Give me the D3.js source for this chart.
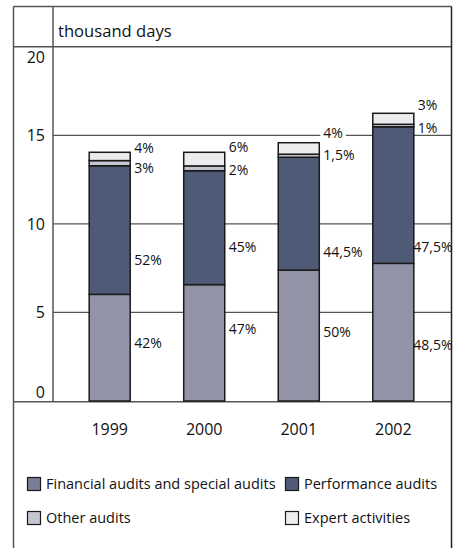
<!DOCTYPE html>
<html><head><meta charset="utf-8">
<script src="https://cdn.jsdelivr.net/npm/d3@7"></script>
<style>
html,body{margin:0;padding:0;background:#fff;}
svg{display:block;font-family:"Open Sans",sans-serif;}
</style></head>
<body>
<svg id="chart" width="454" height="548"></svg>
<script>
// ---- data (thousand days) ----
const years = ["1999", "2000", "2001", "2002"];
const seriesNames = ["Financial audits and special audits", "Performance audits", "Other audits", "Expert activities"];
const financial   = [6.02, 6.57, 7.39, 7.77];
const performance = [7.26, 6.43, 6.37, 7.71];
const other       = [0.29, 0.27, 0.17, 0.14];
const expert      = [0.47, 0.77, 0.65, 0.62];
// percentage labels per series
const financialPct   = ["42%", "47%", "50%", "48,5%"];
const performancePct = ["52%", "45%", "44,5%", "47,5%"];
const otherPct       = ["3%", "2%", "1,5%", "1%"];
const expertPct      = ["4%", "6%", "4%", "3%"];
// label anchor values (thousand days) where each percentage label sits
const financialLabelAt   = [2.99, 3.78, 3.63, 2.88];
const performanceLabelAt = [7.68, 8.43, 8.15, 8.43];
const otherLabelAt       = [12.87, 12.76, 13.60, 15.13];
const expertLabelAt      = [14.00, 14.03, 14.85, 16.43];
const yTicks = [0, 5, 10, 15, 20];
const unitLabel = "thousand days";

const barColors    = ["#9293a7", "#4f5a77", "#c6c6d3", "#ececef"];
const legendColors = ["#7b7e97", "#4f5a77", "#c6c6d3", "#ececef"];

// ---- layout ----
const svg = d3.select("#chart");
const frame = {l: 13.5, r: 451.5, t: 6.5, b: 548};
const plot = {l: 53, r: 451.5, t: 46.7, b: 401};

const x = d3.scaleBand().domain(years).range([62.43, 440.57]).paddingInner(0.566).paddingOuter(0.283);
const y = d3.scaleLinear().domain([0, 20]).range([plot.b, plot.t]);

const table = years.map((yr, i) => ({
  year: yr, financial: financial[i], performance: performance[i], other: other[i], expert: expert[i]
}));
const keys = ["financial", "performance", "other", "expert"];
const stacked = d3.stack().keys(keys)(table);

const lineCol = "#555";

// gridlines (5,10,15)
svg.append("g").selectAll("line").data(yTicks.filter(t => t > 0 && t < 20)).join("line")
  .attr("x1", plot.l).attr("x2", frame.r)
  .attr("y1", d => y(d)).attr("y2", d => y(d))
  .attr("stroke", lineCol).attr("stroke-width", 1.2);

// frame
const fr = svg.append("g").attr("stroke", lineCol).attr("stroke-width", 1.5).attr("fill", "none");
fr.append("line").attr("x1", frame.l).attr("x2", frame.l).attr("y1", frame.t).attr("y2", frame.b);
fr.append("line").attr("x1", frame.l).attr("x2", frame.r).attr("y1", frame.t).attr("y2", frame.t);
fr.append("line").attr("x1", frame.l).attr("x2", frame.r).attr("y1", plot.t).attr("y2", plot.t);
fr.append("line").attr("x1", frame.l).attr("x2", frame.r).attr("y1", plot.b + 0.8).attr("y2", plot.b + 0.8);
fr.append("line").attr("x1", plot.l).attr("x2", plot.l).attr("y1", frame.t).attr("y2", plot.b + 0.8);
fr.append("line").attr("x1", frame.r).attr("x2", frame.r).attr("y1", frame.t).attr("y2", frame.b).attr("stroke", "#222");

// unit label
svg.append("text").attr("x", 58).attr("y", 37).attr("font-size", 16.6).attr("fill", "#111").text(unitLabel);

// y tick labels
svg.append("g").selectAll("text").data(yTicks).join("text")
  .attr("x", 45).attr("text-anchor", "end").attr("font-size", 16).attr("fill", "#111")
  .attr("y", d => d === 0 ? y(d) - 3 : d === 20 ? y(d) + 16 : y(d) + 5.8)
  .text(d => d);

// bars
svg.append("g").selectAll("g").data(stacked).join("g")
  .attr("fill", (d, i) => barColors[i])
  .selectAll("rect").data(d => d).join("rect")
  .attr("x", d => x(d.data.year))
  .attr("width", x.bandwidth())
  .attr("y", d => y(d[1]))
  .attr("height", d => y(d[0]) - y(d[1]))
  .attr("stroke", "#1a1a1a").attr("stroke-width", 1.5);

// percentage labels
const pctSets = [
  {txt: financialPct, at: financialLabelAt},
  {txt: performancePct, at: performanceLabelAt},
  {txt: otherPct, at: otherLabelAt},
  {txt: expertPct, at: expertLabelAt}
];
const labels = [];
pctSets.forEach(s => years.forEach((yr, i) => labels.push({year: yr, text: s.txt[i], at: s.at[i]})));
const lg = svg.append("g");
labels.forEach(l => {
  const ty = y(l.at);
  const t = lg.append("text").attr("x", x(l.year) + x.bandwidth() + 4).attr("y", ty)
    .attr("font-size", 14).attr("fill", "#111").text(l.text);
  const w = t.node().getComputedTextLength();
  const maxRight = 452.5;
  if (x(l.year) + x.bandwidth() + 4 + w > maxRight) t.attr("x", maxRight - w);
  // label sitting on a gridline to the left of the next bar gets a white knock-out
  const onGrid = yTicks.some(t0 => t0 > 0 && t0 < 20 && ty - y(t0) > 0 && ty - y(t0) < 6);
  if (onGrid && l.text === "4%") {
    const bb = t.node().getBBox();
    lg.insert("rect", "text").attr("x", bb.x - 3).attr("y", bb.y + 2).attr("width", bb.width + 6).attr("height", bb.height - 4).attr("fill", "#fff");
  }
});

// year labels
svg.append("g").selectAll("text").data(years).join("text")
  .attr("x", d => x(d) + x.bandwidth() / 2).attr("y", 434.5)
  .attr("text-anchor", "middle").attr("font-size", 16).attr("fill", "#111")
  .text(d => d);

// legend
const legPos = [[27, 477], [285, 477], [27, 511], [285, 511]];
const leg = svg.append("g").selectAll("g").data(seriesNames).join("g")
  .attr("transform", (d, i) => `translate(${legPos[i][0]},${legPos[i][1]})`);
leg.append("rect").attr("x", 0.5).attr("y", 0.5).attr("width", 13).attr("height", 13)
  .attr("fill", (d, i) => legendColors[i]).attr("stroke", "#1a1a1a").attr("stroke-width", 1.2);
leg.append("text").attr("x", 19).attr("y", 12).attr("font-size", 14.5).attr("fill", "#111").text(d => d);
</script>
</body></html>
